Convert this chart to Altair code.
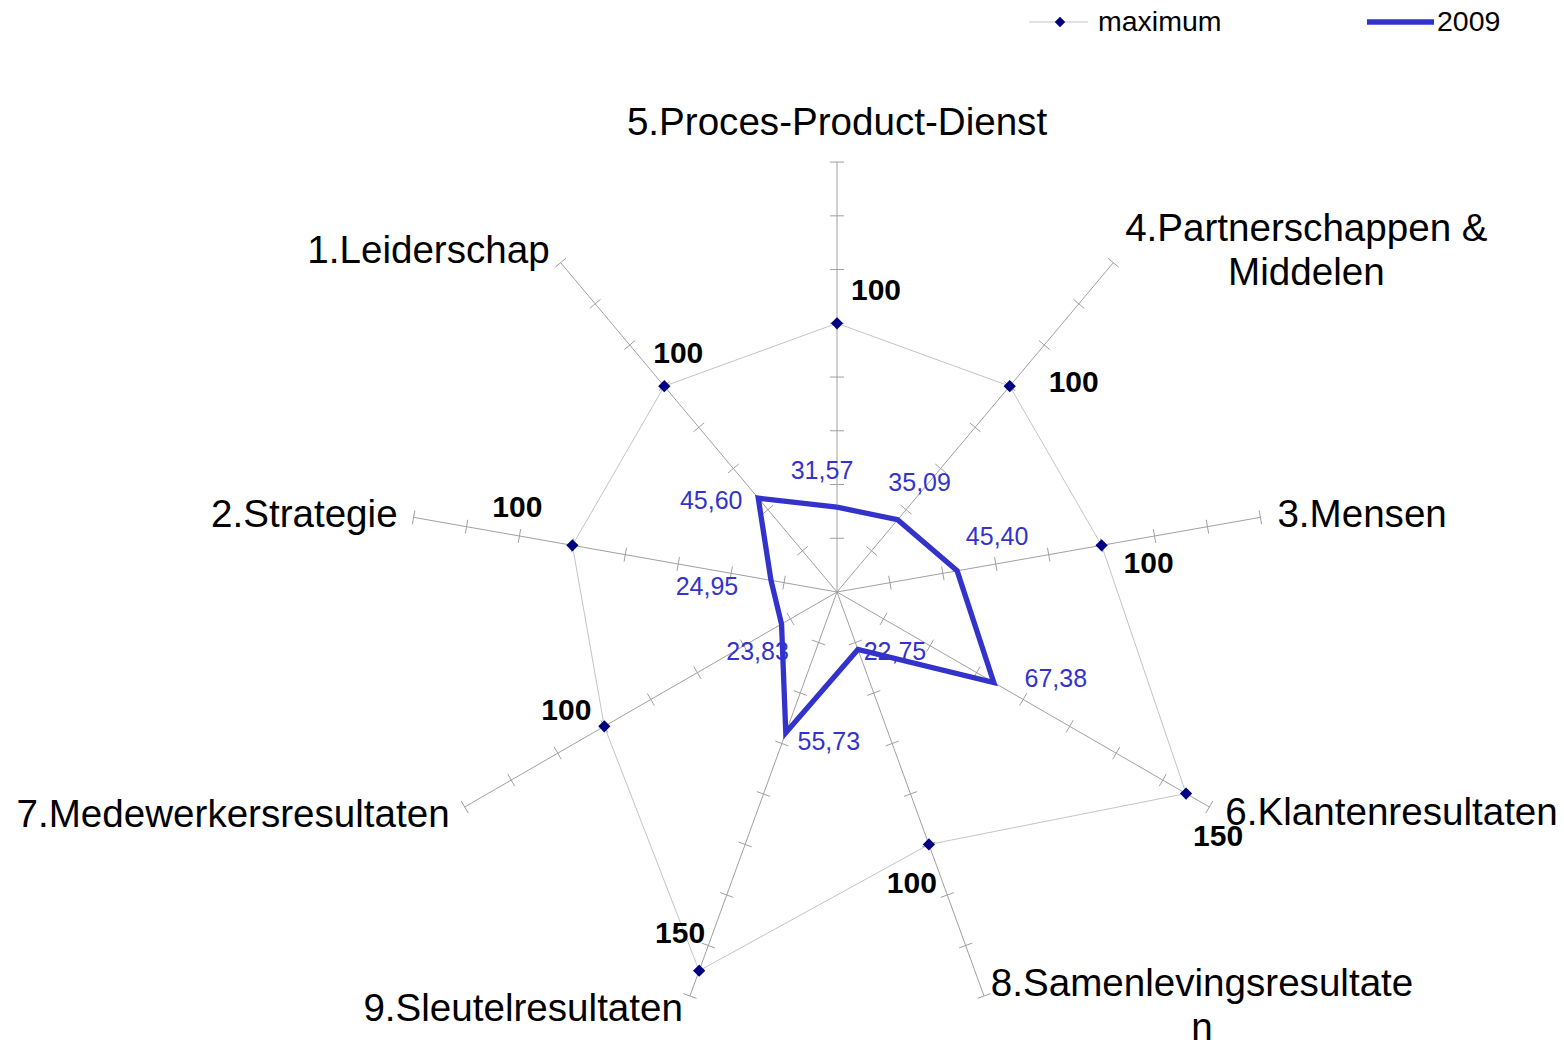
import altair as alt
import pandas as pd

# ---------------- data ----------------
categories = [
    "5.Proces-Product-Dienst",
    "4.Partnerschappen &\nMiddelen",
    "3.Mensen",
    "6.Klantenresultaten",
    "8.Samenlevingsresultate\nn",
    "9.Sleutelresultaten",
    "7.Medewerkersresultaten",
    "2.Strategie",
    "1.Leiderschap",
]
maximum = [100, 100, 100, 150, 100, 150, 100, 100, 100]
score_2009 = [31.57, 35.09, 45.40, 67.38, 22.75, 55.73, 23.83, 24.95, 45.60]
tick_values = [20, 40, 60, 80, 100, 120, 140, 160]
axis_max = 160
series_names = ["maximum", "2009"]

# ---------------- layout (pixels) ----------------
W, H = 1548, 1034
K = 2.687          # pixels per data unit
CX, CY = 829, 584  # centre of the radar inside the view
TICK_HALF = 7      # half length of axis ticks in px
FONT = "Liberation Sans"

# category labels: (align, dx, dy) relative to the axis end, baseline alphabetic
cat_layout = [
    ("center", 0, -27),
    ("center", 193, -22),
    ("left", 17, 10),
    ("left", 16, 18),
    ("center", 218, 0),
    ("right", -7, 25),
    ("right", -15, 20),
    ("right", -16, 10),
    ("right", -11, 0),
]
# label offsets (px) from the data point, label centre
max_label_off = [(39, -33), (64, -4), (47, 18), (32, 42), (-17, 39),
                 (-19, -38), (-38, -16), (-55, -38), (14, -33)]
val_label_off = [(-15, -37), (22, -38), (40, -35), (62, -5), (37, 2),
                 (43, 8), (-24, 27), (-64, 6), (-47, 2)]

rows = []
for i, (c, m, v) in enumerate(zip(categories, maximum, score_2009)):
    rows.append(dict(
        idx=i, cat=c, maxv=m, v=v,
        vlabel=f"{v:.2f}".replace(".", ","), mlabel=str(m),
        calign=cat_layout[i][0], cdx=cat_layout[i][1], cdy=cat_layout[i][2],
        mdx=max_label_off[i][0], mdy=max_label_off[i][1],
        vdx=val_label_off[i][0], vdy=val_label_off[i][1],
    ))
df = pd.DataFrame(rows)
closed = pd.concat([df, df.iloc[[0]].assign(idx=len(categories))], ignore_index=True)

tick_df = pd.DataFrame([dict(idx=i, r=t) for i in range(len(categories)) for t in tick_values])

N = len(categories)
theta = f"datum.idx * 2 * PI / {N}"

xs = alt.Scale(domain=[-CX / K, (W - CX) / K], nice=False, zero=False)
ys = alt.Scale(domain=[-(H - CY) / K, CY / K], nice=False, zero=False)


def X(f):
    return alt.X(f, type="quantitative", scale=xs, axis=None)


def Y(f):
    return alt.Y(f, type="quantitative", scale=ys, axis=None)


AXIS_COLOR = "#a0a0a0"

axes = alt.Chart(df).transform_calculate(
    theta=theta, x0="0", y0="0",
).transform_calculate(
    x1=f"{axis_max} * sin(datum.theta)", y1=f"{axis_max} * cos(datum.theta)"
).mark_rule(color=AXIS_COLOR, strokeWidth=1).encode(
    x=X("x0"), y=Y("y0"), x2="x1:Q", y2="y1:Q"
)

h = TICK_HALF / K
ticks = alt.Chart(tick_df).transform_calculate(theta=theta).transform_calculate(
    xa=f"datum.r * sin(datum.theta) + {h} * cos(datum.theta)",
    ya=f"datum.r * cos(datum.theta) - {h} * sin(datum.theta)",
    xb=f"datum.r * sin(datum.theta) - {h} * cos(datum.theta)",
    yb=f"datum.r * cos(datum.theta) + {h} * sin(datum.theta)",
).mark_rule(color=AXIS_COLOR, strokeWidth=1).encode(
    x=X("xa"), y=Y("ya"), x2="xb:Q", y2="yb:Q"
)

max_line = alt.Chart(closed).transform_calculate(theta=theta).transform_calculate(
    x="datum.maxv * sin(datum.theta)", y="datum.maxv * cos(datum.theta)"
).mark_line(color="#c4c4c4", strokeWidth=1).encode(
    x=X("x"), y=Y("y"), order="idx:Q"
)

line_2009 = alt.Chart(closed).transform_calculate(theta=theta).transform_calculate(
    x="datum.v * sin(datum.theta)", y="datum.v * cos(datum.theta)"
).mark_line(color="#3333cc", strokeWidth=5.3, strokeJoin="miter").encode(
    x=X("x"), y=Y("y"), order="idx:Q"
)

max_pts = alt.Chart(df).transform_calculate(theta=theta).transform_calculate(
    x="datum.maxv * sin(datum.theta)", y="datum.maxv * cos(datum.theta)"
).mark_point(shape="diamond", filled=True, color="#000080", size=150, opacity=1).encode(
    x=X("x"), y=Y("y")
)

max_labels = alt.Chart(df).transform_calculate(theta=theta).transform_calculate(
    x=f"datum.maxv * sin(datum.theta) + datum.mdx / {K}",
    y=f"datum.maxv * cos(datum.theta) - datum.mdy / {K}",
).mark_text(font=FONT, fontSize=30, fontWeight="bold", color="black",
            align="center", baseline="middle", dy=1).encode(
    x=X("x"), y=Y("y"), text="mlabel:N"
)

val_labels = alt.Chart(df).transform_calculate(theta=theta).transform_calculate(
    x=f"datum.v * sin(datum.theta) + datum.vdx / {K}",
    y=f"datum.v * cos(datum.theta) - datum.vdy / {K}",
).mark_text(font=FONT, fontSize=25, color="#3333cc",
            align="center", baseline="middle", dy=1).encode(
    x=X("x"), y=Y("y"), text="vlabel:N"
)

cat_layers = []
for al in ["left", "center", "right"]:
    cat_layers.append(
        alt.Chart(df).transform_filter(f"datum.calign == '{al}'")
        .transform_calculate(theta=theta).transform_calculate(
            x=f"{axis_max} * sin(datum.theta) + datum.cdx / {K}",
            y=f"{axis_max} * cos(datum.theta) - datum.cdy / {K}",
        ).mark_text(font=FONT, fontSize=38.6, color="black", align=al,
                    baseline="alphabetic", lineBreak="\n", lineHeight=44).encode(
            x=X("x"), y=Y("y"), text="cat:N"
        )
    )

# ---------------- legend (drawn by hand) ----------------
leg = pd.DataFrame({"name": series_names})
leg_max = alt.Chart(leg).transform_filter("datum.name == 'maximum'")
leg_09 = alt.Chart(leg).transform_filter("datum.name == '2009'")
LY = 14
legend = [
    leg_max.mark_rule(color="#c4c4c4", strokeWidth=1).encode(
        x=alt.value(1021), x2=alt.value(1080), y=alt.value(LY)),
    leg_max.mark_point(shape="diamond", filled=True, color="#000080", size=110, opacity=1).encode(
        x=alt.value(1052), y=alt.value(LY)),
    leg_max.mark_text(font=FONT, fontSize=28.5, align="left", baseline="middle", color="black").encode(
        x=alt.value(1090), y=alt.value(LY), text="name:N"),
    leg_09.mark_rule(color="#3333cc", strokeWidth=5.3).encode(
        x=alt.value(1359), x2=alt.value(1426), y=alt.value(LY)),
    leg_09.mark_text(font=FONT, fontSize=28.5, align="left", baseline="middle", color="black").encode(
        x=alt.value(1429), y=alt.value(LY), text="name:N"),
]

chart = alt.layer(
    axes, ticks, max_line, line_2009, max_pts, max_labels, val_labels, *cat_layers, *legend
).properties(
    width=W, height=H, padding=0,
    autosize=alt.AutoSizeParams(type="none"),
    background="white",
).configure_view(stroke=None)

chart.save("out.html", embed_options={"renderer": "svg", "actions": False})
